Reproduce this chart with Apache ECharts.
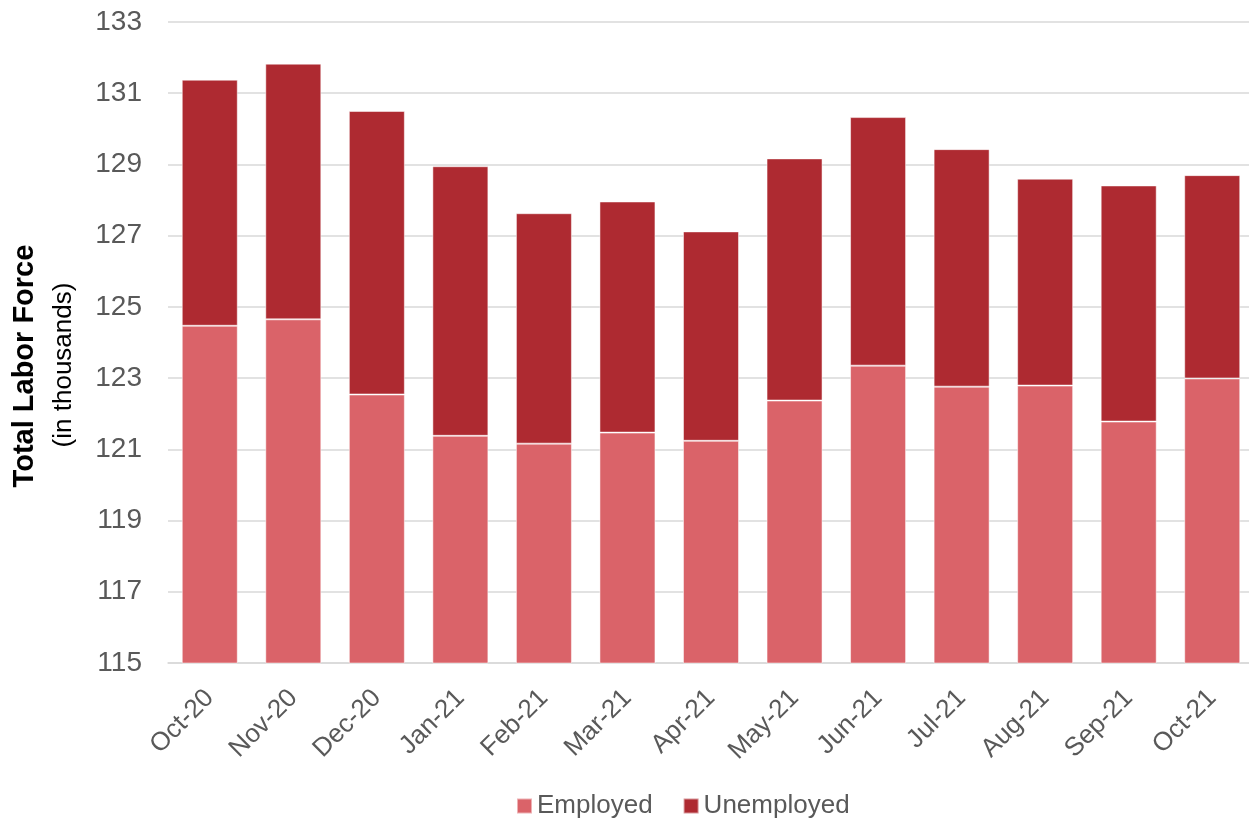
<!DOCTYPE html>
<html>
<head>
<meta charset="utf-8">
<script src="https://cdn.jsdelivr.net/npm/echarts@6/dist/echarts.min.js"></script>
<style>
html,body{margin:0;padding:0;background:#fff;overflow:hidden;}
#chart{width:1260px;height:821px;}
</style>
</head>
<body>
<div id="chart"></div>
<script>
const categories = ["Oct-20","Nov-20","Dec-20","Jan-21","Feb-21","Mar-21","Apr-21","May-21","Jun-21","Jul-21","Aug-21","Sep-21","Oct-21"];
const employed = [124.47, 124.65, 122.54, 121.38, 121.16, 121.47, 121.24, 122.37, 123.35, 122.76, 122.79, 121.78, 122.99];
const unemployed = [6.91, 7.18, 7.96, 7.57, 6.47, 6.49, 5.88, 6.80, 6.98, 6.67, 5.81, 6.63, 5.71];
const yTicks = [115, 117, 119, 121, 123, 125, 127, 129, 131, 133];

const FONT = '"Liberation Sans", Arial, sans-serif';
const chart = echarts.init(document.getElementById('chart'), null, {renderer: 'canvas'});
chart.setOption({
  animation: false,
  textStyle: {fontFamily: FONT},
  grid: {left: 168, top: 22, bottom: 158, right: 6},
  legend: {
    data: ['Employed', 'Unemployed'],
    left: 516, top: 793, padding: 0,
    itemWidth: 15, itemHeight: 15, itemGap: 30,
    icon: 'rect',
    textStyle: {fontSize: 26, color: '#595959', fontFamily: FONT}
  },
  xAxis: {
    type: 'category',
    data: categories,
    axisTick: {show: false},
    axisLine: {lineStyle: {color: '#d9d9d9', width: 1.5}},
    axisLabel: {rotate: 45, fontSize: 26, color: '#595959', margin: 31, interval: 0, fontFamily: FONT}
  },
  yAxis: {
    type: 'value',
    min: yTicks[0], max: yTicks[yTicks.length - 1], interval: 2,
    axisLine: {show: false},
    axisTick: {show: false},
    splitLine: {lineStyle: {color: '#d9d9d9', width: 1.5}},
    axisLabel: {fontSize: 28, color: '#595959', margin: 26, fontFamily: FONT}
  },
  graphic: [
    {type: 'text', x: 25, y: 366, rotation: Math.PI / 2,
     style: {text: 'Total Labor Force', fontSize: 29, fontWeight: 'bold', fill: '#000', align: 'center', verticalAlign: 'middle', fontFamily: FONT}},
    {type: 'text', x: 64, y: 365, rotation: Math.PI / 2,
     style: {text: '(in thousands)', fontSize: 26, fill: '#000', align: 'center', verticalAlign: 'middle', fontFamily: FONT}}
  ],
  series: [
    {name: 'Employed', type: 'bar', stack: 'total', data: employed, barWidth: 56,
     itemStyle: {color: '#DA6369', borderColor: 'rgba(255,255,255,0.5)', borderWidth: 1}},
    {name: 'Unemployed', type: 'bar', stack: 'total', data: unemployed, barWidth: 56,
     itemStyle: {color: '#AE2A31', borderColor: 'rgba(255,255,255,0.5)', borderWidth: 1}}
  ]
});
</script>
</body>
</html>
